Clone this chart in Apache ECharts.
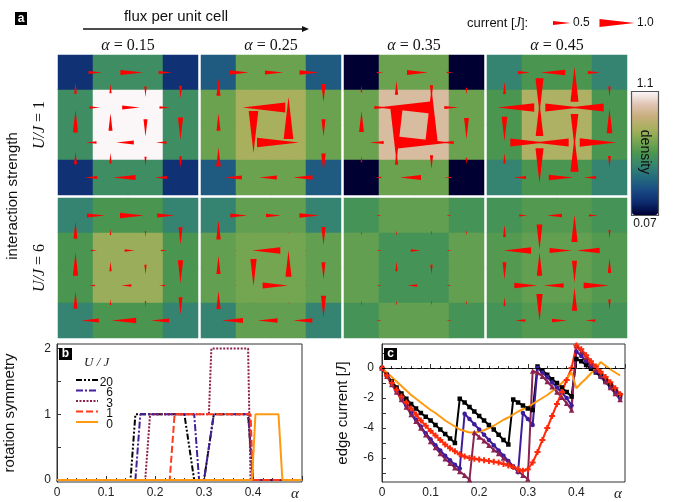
<!DOCTYPE html>
<html><head><meta charset="utf-8">
<script src="https://cdn.jsdelivr.net/npm/echarts@6/dist/echarts.min.js"></script>
<style>html,body{margin:0;padding:0;background:#fff}#c{width:673px;height:502px}</style>
</head><body><div id="c"></div>
<script>
// ================= DATA =================
const alphaLabels = ['0.15', '0.25', '0.35', '0.45'];
const uLabels = ['1', '6'];
// 4x4 lattice: 0 = corner site, 1 = edge site, 2 = central site
const siteType = [[0,1,1,0],[1,2,2,1],[1,2,2,1],[0,1,1,0]];
// densities [corner, edge, center]
const dens_a15_U1 = [0.20, 0.53, 1.10];
const dens_a25_U1 = [0.33, 0.66, 0.79];
const dens_a35_U1 = [0.07, 0.66, 0.96];
const dens_a45_U1 = [0.48, 0.585, 0.81];
const dens_a15_U6 = [0.48, 0.585, 0.76];
const dens_a25_U6 = [0.48, 0.64, 0.68];
const dens_a35_U6 = [0.565, 0.64, 0.565];
const dens_a45_U6 = [0.565, 0.606, 0.64];
// bond currents: H[row][col] from site (row,col) to (row,col+1), + = right
//                V[row][col] from site (row,col) to (row+1,col), + = down
const H_a15_U1 = [[0.38,0.65,0.38],[0.3,0.5,0.3],[-0.3,-0.5,-0.3],[-0.36,-0.65,-0.36]];
const V_a15_U1 = [[-0.33,-0.27,0.3,0.36],[-0.64,-0.5,0.5,0.64],[-0.36,-0.3,0.27,0.33]];
const H_a25_U1 = [[0.55,0.52,0.55],[0.03,-1.22,0.03],[-0.03,1.2,-0.03],[-0.5,-0.5,-0.55]];
const V_a25_U1 = [[-0.5,-0.03,0.03,0.52],[-0.5,1.2,-1.2,0.5],[-0.55,-0.03,0.03,0.55]];
const H_a35_U1 = [[0.2,0.6,0.2],[0.4,-1.58,0.4],[-0.4,1.58,-0.4],[-0.2,-0.6,-0.2]];
const V_a35_U1 = [[-0.2,-0.4,0.4,0.2],[-0.6,1.58,-1.58,0.6],[-0.2,-0.4,0.4,0.2]];
const H_a45_U1 = [[0.35,-0.7,0.35],[-1.05,1.0,-1.0],[1.0,-1.0,1.05],[-0.35,0.7,-0.35]];
const V_a45_U1 = [[-0.35,1.0,-1.0,0.3],[0.7,-0.95,0.95,-0.7],[-0.3,1.0,-1.0,0.35]];
const H_a15_U6 = [[0.52,0.69,0.5],[0.18,0.29,0.18],[-0.18,-0.29,-0.18],[-0.5,-0.7,-0.52]];
const V_a15_U6 = [[-0.49,-0.17,0.17,0.5],[-0.66,-0.28,0.28,0.66],[-0.5,-0.17,0.17,0.49]];
const H_a25_U6 = [[0.49,0.43,0.57],[0.04,-0.8,0.04],[-0.04,0.72,-0.04],[-0.6,-0.57,-0.54]];
const V_a25_U6 = [[-0.55,-0.04,0.04,0.52],[-0.52,0.78,-0.75,0.49],[-0.52,-0.04,0.04,0.63]];
const H_a35_U6 = [[0.12,0.03,0.12],[0.12,0.28,0.12],[-0.12,-0.28,-0.12],[-0.12,-0.03,-0.12]];
const V_a35_U6 = [[-0.12,-0.12,0.12,0.12],[-0.03,-0.28,0.28,0.03],[-0.12,-0.12,0.12,0.12]];
const H_a45_U6 = [[0.24,-0.43,0.26],[-0.78,0.63,-0.66],[0.66,-0.57,0.72],[-0.29,0.43,-0.29]];
const V_a45_U6 = [[-0.35,0.72,-0.78,0.25],[0.49,-0.66,0.63,-0.43],[-0.25,0.78,-0.66,0.3]];
const currentLegend = [0.5, 1.0];
const densRange = [0.07, 1.1];

// panel b: rotation symmetry
const rotA_20 = [0,0.15,0.16,0.26,0.28,0.30,0.32,0.39,0.40,0.5];
const rot_20  = [0,0,1,1,0,0,1,1,0,0];
const rotA_6  = [0,0.16,0.17,0.28,0.29,0.30,0.32,0.39,0.40,0.5];
const rot_6   = [0,0,1,1,0,0,1,1,0,0];
const rotA_3  = [0,0.18,0.19,0.31,0.315,0.39,0.395,0.5];
const rot_3   = [0,0,1,1,2,2,0,0];
const rotA_1  = [0,0.23,0.24,0.395,0.40,0.5];
const rot_1   = [0,0,1,1,0,0];
const rotA_0  = [0,0.398,0.405,0.452,0.46,0.5];
const rot_0   = [0,0,1,1,0,0];
const legendU = ['20', '6', '3', '1', '0'];

// panel c: edge current
const alphaC = [0,0.01,0.02,0.03,0.04,0.05,0.06,0.07,0.08,0.09,0.10,0.11,0.12,0.13,0.14,0.15,0.16,0.17,0.18,0.19,0.20,0.21,0.22,0.23,0.24,0.25,0.26,0.27,0.28,0.29,0.30,0.31,0.32,0.33,0.34,0.35,0.36,0.37,0.38,0.39,0.40,0.41,0.42,0.43,0.44,0.45,0.46,0.47,0.48,0.49];
const edge_U20 = [0,-0.45,-0.9,-1.3,-1.7,-2.05,-2.4,-2.7,-3.0,-3.25,-3.5,-3.8,-4.1,-4.4,-4.7,-5.0,-2.05,-2.3,-2.6,-2.9,-3.2,-3.5,-3.8,-4.1,-4.45,-4.8,-5.1,-2.1,-2.3,-2.5,-2.7,-2.8,0.1,-0.15,-0.45,-0.75,-1.0,-1.3,-1.6,-1.9,0.6,0.45,0.2,-0.05,-0.3,-0.55,-0.85,-1.15,-1.45,-1.8];
const edge_U6  = [0,-0.5,-1.05,-1.55,-2.05,-2.5,-3.0,-3.45,-3.9,-4.35,-4.75,-5.15,-5.5,-5.85,-6.15,-6.45,-6.7,-3.05,-3.4,-3.75,-4.1,-4.45,-4.8,-5.15,-5.5,-5.85,-6.2,-6.55,-6.95,-3.0,-3.4,-3.8,0.0,-0.3,-0.6,-0.95,-1.3,-1.65,-2.0,-2.5,1.1,0.8,0.45,0.1,-0.25,-0.6,-0.95,-1.3,-1.65,-2.0];
const edge_U3  = [0,-0.55,-1.1,-1.6,-2.1,-2.6,-3.1,-3.55,-4.0,-4.45,-4.9,-5.3,-5.7,-6.05,-6.35,-6.65,-6.9,-7.15,-7.45,-4.3,-4.6,-4.85,-5.15,-5.45,-5.7,-6.0,-6.3,-6.55,-6.85,-7.15,-7.4,-0.2,-0.3,-0.55,-0.9,-1.25,-1.6,-1.95,-2.35,-2.8,1.5,1.1,0.7,0.3,-0.1,-0.5,-0.9,-1.3,-1.7,-2.1];
const edge_U1  = [0,-0.5,-1.0,-1.45,-1.9,-2.3,-2.7,-3.1,-3.5,-3.85,-4.2,-4.5,-4.8,-5.1,-5.35,-5.55,-5.75,-5.9,-6.0,-6.05,-6.1,-6.15,-6.2,-6.25,-6.3,-6.4,-6.5,-6.6,-6.75,-6.85,-6.75,-6.3,-5.6,-4.8,-4.0,-3.2,-2.4,-1.6,-0.8,0.0,1.5,1.25,0.85,0.45,0.1,-0.25,-0.6,-0.95,-1.35,-1.75];
const edge_U0  = [0,-0.3,-0.6,-0.9,-1.2,-1.5,-1.8,-2.05,-2.3,-2.55,-2.8,-3.0,-3.25,-3.5,-3.7,-3.9,-4.1,-4.2,-4.3,-4.3,-4.25,-4.15,-4.0,-3.85,-3.65,-3.45,-3.3,-3.1,-2.9,-2.75,-2.6,-2.4,-2.2,-2.0,-1.8,-1.55,-1.3,-1.0,-0.7,-0.3,-1.35,-1.0,-0.7,-0.35,0.0,0.4,0.15,-0.1,-0.3,-0.5];

// ================= BUILD =================
const SANS = 'Liberation Sans, Arial, Helvetica, sans-serif';
const SERIF = 'Liberation Serif, Times New Roman, serif';
const cmap = ['#000033','#0c2a6e','#1a4a84','#246a7e','#358572','#4a9650','#78a650','#a8b05e','#c8ae7c','#e0c4b4','#fbf6f8'];
const ARROW_W = 0.23; // triangle base width in lattice units per unit current

const panels = [
  [dens_a15_U1, H_a15_U1, V_a15_U1], [dens_a25_U1, H_a25_U1, V_a25_U1],
  [dens_a35_U1, H_a35_U1, V_a35_U1], [dens_a45_U1, H_a45_U1, V_a45_U1],
  [dens_a15_U6, H_a15_U6, V_a15_U6], [dens_a25_U6, H_a25_U6, V_a25_U6],
  [dens_a35_U6, H_a35_U6, V_a35_U6], [dens_a45_U6, H_a45_U6, V_a45_U6]
];
const panelLeft = [58, 201, 344, 487];
const panelTop = [55, 198];
const PS = 140;
const idx = ['0','1','2','3'];

function heatData(d){ const out=[]; for(let r=0;r<4;r++) for(let c=0;c<4;c++) out.push([c,r,d[siteType[r][c]]]); return out; }
function bondData(H,V){ const out=[];
  H.forEach((row,r)=>row.forEach((I,c)=>out.push([c,r,0,I])));
  V.forEach((row,r)=>row.forEach((I,c)=>out.push([c,r,1,I])));
  return out; }

function arrowItem(params, api){
  const c=api.value(0), r=api.value(1), o=api.value(2), I=api.value(3);
  if(!I) return null;
  const p0=api.coord([c,r]);
  const p1=o===0?api.coord([c+1,r]):api.coord([c,r+1]);
  const dx=p1[0]-p0[0], dy=p1[1]-p0[1];
  const u=Math.sqrt(dx*dx+dy*dy);
  const s=I>0?1:-1, a=Math.abs(I);
  const ux=s*dx/u, uy=s*dy/u;
  const mx=(p0[0]+p1[0])/2, my=(p0[1]+p1[1])/2;
  const L=a*u, W=a*ARROW_W*u;
  const tx=mx-ux*L/3, ty=my-uy*L/3;
  const hx=mx+ux*2*L/3, hy=my+uy*2*L/3;
  const nx=-uy, ny=ux;
  return {type:'polygon', shape:{points:[[hx,hy],[tx+nx*W/2,ty+ny*W/2],[tx-nx*W/2,ty-ny*W/2]]},
    style:{fill:'#ff0000'}};
}

const grid=[], xAxis=[], yAxis=[], series=[];
panels.forEach((p,i)=>{
  const col=i%4, row=Math.floor(i/4);
  grid.push({left:panelLeft[col], top:panelTop[row], width:PS, height:PS});
  xAxis.push({type:'category', data:idx, gridIndex:i, show:false});
  yAxis.push({type:'category', data:idx, gridIndex:i, show:false, inverse:true});
});
panels.forEach((p,i)=>{
  series.push({type:'heatmap', xAxisIndex:i, yAxisIndex:i, data:heatData(p[0]),
    itemStyle:{borderWidth:0}, emphasis:{disabled:true}, silent:true});
});
panels.forEach((p,i)=>{
  series.push({type:'custom', xAxisIndex:i, yAxisIndex:i, data:bondData(p[1],p[2]),
    encode:{x:0,y:1}, renderItem:arrowItem, clip:false, silent:true, z:5});
});

// --- panel b and c axes ---
const axisCommon = {
  axisLine:{lineStyle:{color:'#333', width:1}},
  axisTick:{inside:true, length:4, lineStyle:{color:'#333'}},
  splitLine:{show:false},
};
grid.push({left:57, top:344, width:245, height:141, show:true, borderColor:'#333', borderWidth:1});
grid.push({left:382, top:344, width:243, height:141, show:true, borderColor:'#333', borderWidth:1});
const xFmt = v => Math.abs(v-0.5)<1e-6 ? '{a|α}' : String(+v.toFixed(2));
[8,9].forEach(g=>{
  xAxis.push(Object.assign({}, axisCommon, {type:'value', gridIndex:g, min:0, max:0.5, interval:0.1,
    minorTick:{show:true, splitNumber:5, length:2, lineStyle:{color:'#333'}},
    axisLabel:{fontFamily:SANS, fontSize:12, color:'#222', margin:5, formatter:xFmt,
      rich:{a:{fontFamily:SERIF, fontStyle:'italic', fontSize:15, padding:[0,14,0,0], color:'#222'}}}}));
});
yAxis.push(Object.assign({}, axisCommon, {type:'value', gridIndex:8, min:-0.03, max:2.07,
  axisTick:{inside:true, length:4, lineStyle:{color:'#333'}, customValues:[0,0.5,1,1.5,2]},
  axisLabel:{fontFamily:SANS, fontSize:12, color:'#222', margin:6, customValues:[0,1,2]},
  name:'rotation symmetry', nameLocation:'middle', nameGap:40, nameRotate:90,
  nameTextStyle:{fontFamily:SANS, fontSize:15, color:'#111'}}));
yAxis.push(Object.assign({}, axisCommon, {type:'value', gridIndex:9, min:-7.6, max:1.6,
  axisTick:{inside:true, length:4, lineStyle:{color:'#333'}, customValues:[-7,-6,-5,-4,-3,-2,-1,0,1]},
  axisLabel:{fontFamily:SANS, fontSize:12, color:'#222', margin:8, customValues:[-6,-4,-2,0]},
  name:'edge current [{j|J}]', nameLocation:'middle', nameGap:32, nameRotate:90,
  nameTextStyle:{fontFamily:SANS, fontSize:15, color:'#111',
    rich:{j:{fontFamily:SERIF, fontStyle:'italic', fontSize:15, color:'#111'}}}}));

const zip = (a,b)=>a.map((x,k)=>[x,b[k]]);
const bSeries = [
  [legendU[0], rotA_20, rot_20, '#000000', [6,2,2,2,2,2]],
  [legendU[1], rotA_6,  rot_6,  '#45209c', [7,2,2,2]],
  [legendU[2], rotA_3,  rot_3,  '#8e1f4c', [2,1.5]],
  [legendU[3], rotA_1,  rot_1,  '#ff3a1a', [7,3]],
  [legendU[4], rotA_0,  rot_0,  '#ff9a10', 'solid']
];
bSeries.forEach(s=>{
  series.push({type:'line', name:s[0], xAxisIndex:8, yAxisIndex:8, data:zip(s[1],s[2]),
    symbol:'none', showSymbol:false, lineStyle:{color:s[3], width:2, type:s[4]}, itemStyle:{color:s[3]},
    silent:true});
});
const plusPath = 'path://M2,0h2v2h2v2h-2v2h-2v-2h-2v-2h2z';
const cSeries = [
  ['c20', edge_U20, '#000000', 'rect', 4.5],
  ['c6',  edge_U6,  '#3d1c9c', 'circle', 4.5],
  ['c3',  edge_U3,  '#8a2352', 'triangle', 5.5],
  ['c1',  edge_U1,  '#ff2a0a', plusPath, 6],
  ['c0',  edge_U0,  '#ff9a10', 'none', 0]
];
cSeries.forEach((s,k)=>{
  const o = {type:'line', name:s[0], xAxisIndex:9, yAxisIndex:9, data:zip(alphaC,s[1]),
    symbol:s[3], symbolSize:s[4], showSymbol:s[3]!=='none',
    lineStyle:{color:s[2], width:2}, itemStyle:{color:s[2]}, silent:true};
  if(k===0) o.markLine={silent:true, symbol:'none', label:{show:false},
    lineStyle:{color:'#000', type:[4,3], width:1}, data:[{yAxis:0}]};
  series.push(o);
});

// --- graphics (labels, legends) ---
const graphic = [];
const T = (x,y,text,font,align,extra) => Object.assign({type:'text', x, y, z:100,
  style:{text, fill:'#111', font, textAlign:align||'center', textVerticalAlign:'middle', verticalAlign:'middle'}}, extra||{});
graphic.push({type:'rect', shape:{x:15,y:12,width:12,height:13}, style:{fill:'#000'}});
graphic.push(T(21,18.5,'a','bold 12px '+SANS));
graphic[graphic.length-1].style.fill='#fff';
graphic.push(T(176,17,'flux per unit cell','15px '+SANS));
graphic.push({type:'line', shape:{x1:83,y1:29,x2:304,y2:29}, style:{stroke:'#111', lineWidth:1.3}});
graphic.push({type:'polygon', shape:{points:[[302,26],[309,29],[302,32]]}, style:{fill:'#111'}});
alphaLabels.forEach((a,i)=>{
  const t = T(panelLeft[i]+PS/2, 46, '{i|α} = '+a, '16px '+SERIF);
  t.style.rich = {i:{fontStyle:'italic', fontFamily:SERIF, fontSize:16, fill:'#111'}};
  graphic.push(t);
});
uLabels.forEach((u,i)=>{
  const t = T(40, panelTop[i]+PS/2, '{i|U/J} = '+u, '16px '+SERIF, 'center', {rotation:Math.PI/2});
  t.style.rich = {i:{fontStyle:'italic', fontFamily:SERIF, fontSize:16, fill:'#111'}};
  graphic.push(t);
});
graphic.push(T(13,196,'interaction strength','15px '+SANS,'center',{rotation:Math.PI/2}));
// current legend
const cl = T(467,23,'current [{i|J}]:','13px '+SANS,'left');
cl.style.rich = {i:{fontStyle:'italic', fontFamily:SERIF, fontSize:14, fill:'#111'}};
graphic.push(cl);
const legX = [553, 599.5];
const unitPx = PS/4;
currentLegend.forEach((v,k)=>{
  const L = v*unitPx, W = v*ARROW_W*unitPx, x0 = legX[k], y0 = 23;
  graphic.push({type:'polygon', shape:{points:[[x0,y0-W/2],[x0,y0+W/2],[x0+L,y0]]}, style:{fill:'#ff0000'}});
  graphic.push(T(x0+L+2.5, y0, v.toFixed(1), '12px '+SANS, 'left'));
});
// colorbar frame + labels
graphic.push({type:'rect', shape:{x:631.5,y:91.5,width:27,height:124}, style:{fill:'none', stroke:'#555', lineWidth:1.2}, z:100});
graphic.push(T(645,84,densRange[1].toString(),'12px '+SANS));
graphic.push(T(645,224,densRange[0].toString(),'12px '+SANS));
graphic.push(T(645,152,'density','14px '+SANS,'center',{rotation:-Math.PI/2, z:101}));
// b, c tags
[[59,348,'b'],[384,348,'c']].forEach(t=>{
  graphic.push({type:'rect', shape:{x:t[0],y:t[1],width:13,height:12}, style:{fill:'#000'}, z:100});
  const tt = T(t[0]+6.5, t[1]+6, t[2], 'bold 12px '+SANS, 'center', {z:101});
  tt.style.fill = '#fff';
  graphic.push(tt);
});
// legend of panel b (line samples in series styles)
const ut = T(84,363,'U / J','italic 13px '+SERIF,'left');
ut.style.fill = '#222';
graphic.push(ut);
bSeries.forEach((s,k)=>{
  const y = 380 + k*10.5;
  graphic.push({type:'line', z:100, shape:{x1:76,y1:y,x2:98,y2:y},
    style:{stroke:s[3], lineWidth:2, lineDash:(s[4]==='solid'?null:s[4])}});
  graphic.push(T(113, y+2.5, s[0], '12px '+SANS, 'right'));
});

const option = {
  animation:false,
  backgroundColor:'#fff',
  grid, xAxis, yAxis, series, graphic,
  visualMap:{type:'continuous', min:densRange[0], max:densRange[1], seriesIndex:[0,1,2,3,4,5,6,7],
    inRange:{color:cmap}, orient:'vertical', left:632, top:92, itemWidth:26, itemHeight:123,
    calculable:false, padding:0, text:null, showLabel:false, hoverLink:false}
};
const chart = echarts.init(document.getElementById('c'), null, {renderer:'canvas'});
chart.setOption(option);
</script></body></html>
